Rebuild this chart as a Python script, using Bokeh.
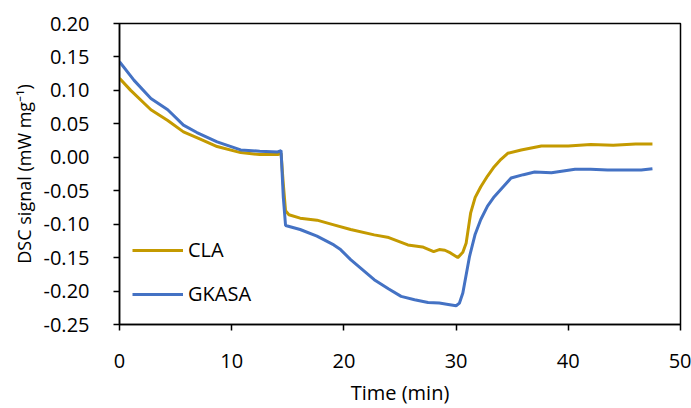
from bokeh.plotting import figure
from bokeh.models import Legend, LegendItem, FixedTicker, NumeralTickFormatter, Range1d, Title
from bokeh.embed import file_html
from bokeh.resources import INLINE

cla_t = [0, 1, 2.8, 4.3, 5.7, 7.2, 8.7, 10.8, 12.5, 14.1, 14.4, 14.6, 14.8, 15.1, 16.1, 17.6, 19.1, 20.6,
         22.7, 24.0, 25.7, 27.0, 28.0, 28.5, 29.0, 29.5, 30.15, 30.6, 30.9, 31.3, 31.7, 32.2, 32.8, 33.4,
         34.0, 34.6, 35.8, 37.6, 40, 42, 44, 46, 47.5]
cla_y = [0.118, 0.100, 0.071, 0.055, 0.038, 0.027, 0.016, 0.007, 0.004, 0.004, 0.006, -0.040, -0.080,
         -0.086, -0.091, -0.094, -0.101, -0.108, -0.116, -0.120, -0.131, -0.134, -0.141, -0.138, -0.139,
         -0.143, -0.150, -0.142, -0.128, -0.083, -0.060, -0.044, -0.028, -0.014, -0.003, 0.006, 0.011,
         0.017, 0.017, 0.019, 0.018, 0.020, 0.020]

gk_t = [0, 1.3, 2.8, 4.3, 5.7, 6.9, 8.7, 10.8, 12.5, 14.1, 14.4, 14.6, 14.8, 16.1, 17.6, 19.1, 19.7, 20.6,
        22.7, 24.0, 25.1, 26.3, 27.5, 28.5, 29.3, 30.0, 30.3, 30.6, 31.2, 31.7, 32.2, 32.8, 33.4, 34.2,
        34.9, 36.0, 37.0, 38.5, 40.6, 42, 43.5, 45, 46.5, 47.5]
gk_y = [0.143, 0.115, 0.088, 0.071, 0.048, 0.037, 0.023, 0.011, 0.009, 0.008, 0.010, -0.060, -0.102,
        -0.108, -0.118, -0.131, -0.138, -0.153, -0.183, -0.197, -0.208, -0.213, -0.217, -0.218, -0.220,
        -0.222, -0.218, -0.203, -0.148, -0.115, -0.093, -0.073, -0.059, -0.044, -0.031, -0.026, -0.022,
        -0.023, -0.018, -0.018, -0.019, -0.019, -0.019, -0.017]

x_ticks = [0, 10, 20, 30, 40, 50]
y_ticks = [-0.25, -0.20, -0.15, -0.10, -0.05, 0.00, 0.05, 0.10, 0.15, 0.20]

FONT = "Open Sans"

p = figure(width=691, height=408, output_backend="svg", toolbar_location=None,
           x_range=Range1d(0, 50), y_range=Range1d(-0.25, 0.20),
           min_border_left=119, min_border_top=23, min_border_right=11, min_border_bottom=83)
p.grid.visible = False
p.outline_line_color = "black"
p.outline_line_width = 1.5

r1 = p.line(cla_t, cla_y, line_color="#C49A00", line_width=3)
r2 = p.line(gk_t, gk_y, line_color="#4472C4", line_width=3)

for ax in (p.xaxis[0], p.yaxis[0]):
    ax.axis_line_color = "black"
    ax.axis_line_width = 1.5
    ax.major_tick_line_color = "black"
    ax.major_tick_line_width = 1.5
    ax.major_tick_out = 6
    ax.major_tick_in = 0
    ax.minor_tick_line_color = None
    ax.major_label_text_font = FONT
    ax.major_label_text_font_size = "20px"
    ax.major_label_text_color = "black"
    ax.axis_label_text_font = FONT
    ax.axis_label_text_font_size = "20px"
    ax.axis_label_text_font_style = "normal"
    ax.axis_label_text_color = "black"

p.xaxis.ticker = FixedTicker(ticks=x_ticks)
p.yaxis.ticker = FixedTicker(ticks=y_ticks)
p.yaxis.formatter = NumeralTickFormatter(format="0.00")
p.xaxis.axis_label = "Time (min)"
p.xaxis.major_label_standoff = 23
p.yaxis.major_label_standoff = 24
p.xaxis.axis_label_standoff = 8

ytitle = Title(text="DSC signal (mW mg\u207b\u00b9)", align="center", offset=26, standoff=9,
               text_font=FONT, text_font_size="18px", text_font_style="normal", text_color="black")
p.add_layout(ytitle, "left")

legend = Legend(items=[LegendItem(label="CLA", renderers=[r1]),
                       LegendItem(label="GKASA", renderers=[r2])],
                location=(13, 17), orientation="vertical",
                border_line_color=None, background_fill_alpha=0,
                padding=0, margin=0, spacing=17,
                glyph_width=51, glyph_height=20, label_height=20,
                label_standoff=5, label_text_font=FONT, label_text_font_size="20px",
                label_text_color="black")
p.add_layout(legend)

open("out.html", "w").write(file_html(p, INLINE))
